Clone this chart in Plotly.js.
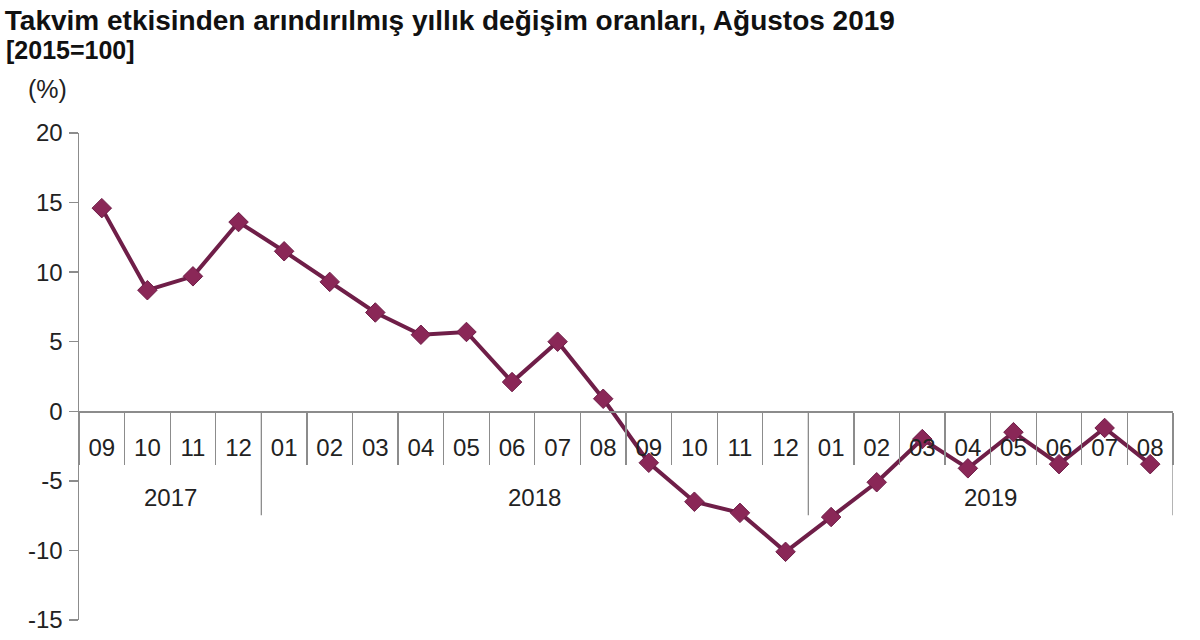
<!DOCTYPE html>
<html>
<head>
<meta charset="utf-8">
<script src="https://cdn.plot.ly/plotly-3.0.1.min.js"></script>
<style>html,body{margin:0;padding:0;background:#fff;}#chart{width:1200px;height:640px;}</style>
</head>
<body>
<div id="chart"></div>
<script>
const years = ['2017','2017','2017','2017',
  '2018','2018','2018','2018','2018','2018','2018','2018','2018','2018','2018','2018',
  '2019','2019','2019','2019','2019','2019','2019','2019'];
const months = ['09','10','11','12',
  '01','02','03','04','05','06','07','08','09','10','11','12',
  '01','02','03','04','05','06','07','08'];
const values = [14.6, 8.7, 9.7, 13.6,
  11.5, 9.3, 7.1, 5.5, 5.7, 2.1, 5.0, 0.9, -3.7, -6.5, -7.3, -10.1,
  -7.6, -5.1, -2.0, -4.1, -1.5, -3.8, -1.2, -3.8];
const yTicks = [-15, -10, -5, 0, 5, 10, 15, 20];
const yMin = -15, yMax = 20;

// unique category keys, labelled with month numbers
const keys = years.map((y, i) => y + '-' + months[i]);

// year groups (start/end index) derived from the years array
const groups = [];
years.forEach((y, i) => {
  if (!groups.length || groups[groups.length - 1].year !== y) groups.push({year: y, start: i, end: i});
  else groups[groups.length - 1].end = i;
});

const axisY = (0 - yMin) / (yMax - yMin);   // paper position of value 0
const lineCol = '#8c8c8c';

const yearLabels = groups.map(g => ({
  text: g.year, xref: 'x', yref: 'paper',
  x: (g.start + g.end) / 2, y: 0.252,
  xanchor: 'center', yanchor: 'middle', showarrow: false,
  font: {size: 24, color: '#222'}
}));
const yearDividers = groups.map(g => ({
  type: 'line', xref: 'x', yref: 'paper',
  x0: g.end + 0.5, x1: g.end + 0.5, y0: axisY, y1: 0.215,
  line: {color: lineCol, width: 1.3}
}));

const trace = {
  type: 'scatter',
  mode: 'lines+markers',
  x: keys,
  y: values,
  line: {color: '#6f1e48', width: 4},
  marker: {symbol: 'diamond', size: 15, color: '#8a2757', line: {color: '#6f1e48', width: 1}},
  hoverinfo: 'skip'
};

const layout = {
  width: 1200, height: 640,
  margin: {l: 79, r: 27, t: 133, b: 20},
  paper_bgcolor: '#fff', plot_bgcolor: '#fff',
  showlegend: false,
  font: {family: '"Liberation Sans", Arial, sans-serif', color: '#222', size: 24},
  title: {
    text: '<b>Takvim etkisinden arındırılmış yıllık değişim oranları, Ağustos 2019</b>',
    x: 0.004, xanchor: 'left', y: 0.968, yanchor: 'middle',
    font: {family: '"Liberation Sans", Arial, sans-serif', size: 28, color: '#111'}
  },
  annotations: [
    {text: '<b>[2015=100]</b>', xref: 'paper', yref: 'paper', x: -0.069, y: 1.170,
     xanchor: 'left', yanchor: 'middle', showarrow: false,
     font: {size: 25, color: '#111'}},
    {text: '(%)', xref: 'paper', yref: 'paper', x: -0.048, y: 1.090,
     xanchor: 'left', yanchor: 'middle', showarrow: false,
     font: {size: 25, color: '#222'}}
  ].concat(yearLabels),
  shapes: yearDividers,
  xaxis: {
    type: 'category',
    range: [-0.5, keys.length - 0.5],
    anchor: 'free',
    position: axisY,
    tickmode: 'array', tickvals: keys, ticktext: months,
    showline: true, linecolor: lineCol, linewidth: 1.5,
    ticks: 'outside', tickson: 'boundaries', ticklen: 52, tickcolor: lineCol, tickwidth: 1.3,
    ticklabelstandoff: 14,
    showgrid: false, zeroline: false,
    tickfont: {size: 24, color: '#222'},
    fixedrange: true
  },
  yaxis: {
    range: [yMin, yMax],
    tickmode: 'array', tickvals: yTicks, ticktext: yTicks.map(String),
    showline: true, linecolor: lineCol, linewidth: 1.5,
    ticks: 'outside', ticklen: 9, tickcolor: lineCol, tickwidth: 1.3,
    showgrid: false, zeroline: false,
    tickfont: {size: 24, color: '#222'},
    ticklabelstandoff: 1,
    fixedrange: true
  }
};

Plotly.newPlot('chart', [trace], layout, {staticPlot: true, displayModeBar: false});
</script>
</body>
</html>
